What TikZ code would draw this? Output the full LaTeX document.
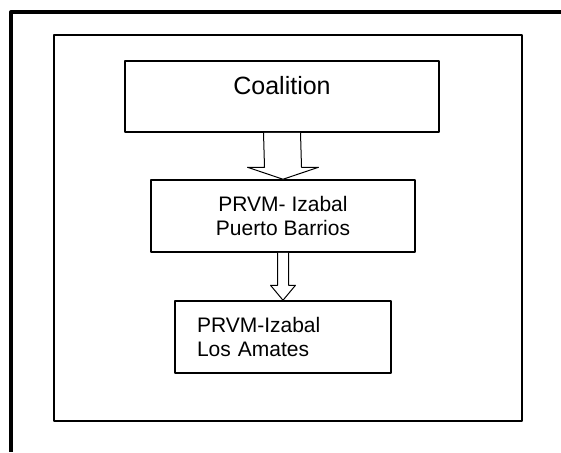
\documentclass[tikz,border=0pt]{standalone}
\usepackage{fontspec}
\setmainfont{Liberation Sans}
\usetikzlibrary{calc}

\tikzset{
  unitbox/.style={draw,line width=1.5pt,inner sep=0pt,font=\fontsize{21}{24}\selectfont},
  blockarrow/.style={line width=1pt,fill=white}
}

\begin{document}
\begin{tikzpicture}[line cap=round,line join=round,x=1pt,y=-1pt]
\useasboundingbox (0,0) rectangle (561,452);
% frames
\draw [line width=4pt,line cap=butt] (561,12) -- (11,12) -- (11,452);
\draw [line width=1.1pt] (54,35) rectangle (522,421);
% boxes
\node [unitbox,minimum width=314,minimum height=71] (coal) at (282,96.5) {};
\node [font=\fontsize{25}{29}\selectfont] (coaltext) at ($(coal.north)+(0,25.5)$) {Coalition};
\node [unitbox,minimum width=264,minimum height=72,align=center] (prb) at (283,216) {PRVM- Izabal\\Puerto Barrios};
\node [unitbox,text width=172,inner xsep=22pt,minimum height=72,align=left] (amat) at (283,337) {PRVM-Izabal\\Los Amates};
% arrows
\draw [blockarrow] ($(coal.south)+(-18.5,0)$) -- ($(prb.north)+(-18.5,-12)$) -- ($(prb.north)+(-35.5,-12)$) -- (prb.north) -- ($(prb.north)+(35.5,-12)$) -- ($(prb.north)+(18.5,-12)$) -- ($(coal.south)+(18.5,0)$);
\draw [blockarrow] ($(prb.south)+(-5.5,0)$) -- ($(amat.north)+(-5.5,-15)$) -- ($(amat.north)+(-12.5,-15)$) -- (amat.north) -- ($(amat.north)+(12.5,-15)$) -- ($(amat.north)+(5.5,-15)$) -- ($(prb.south)+(5.5,0)$);
\end{tikzpicture}
\end{document}
